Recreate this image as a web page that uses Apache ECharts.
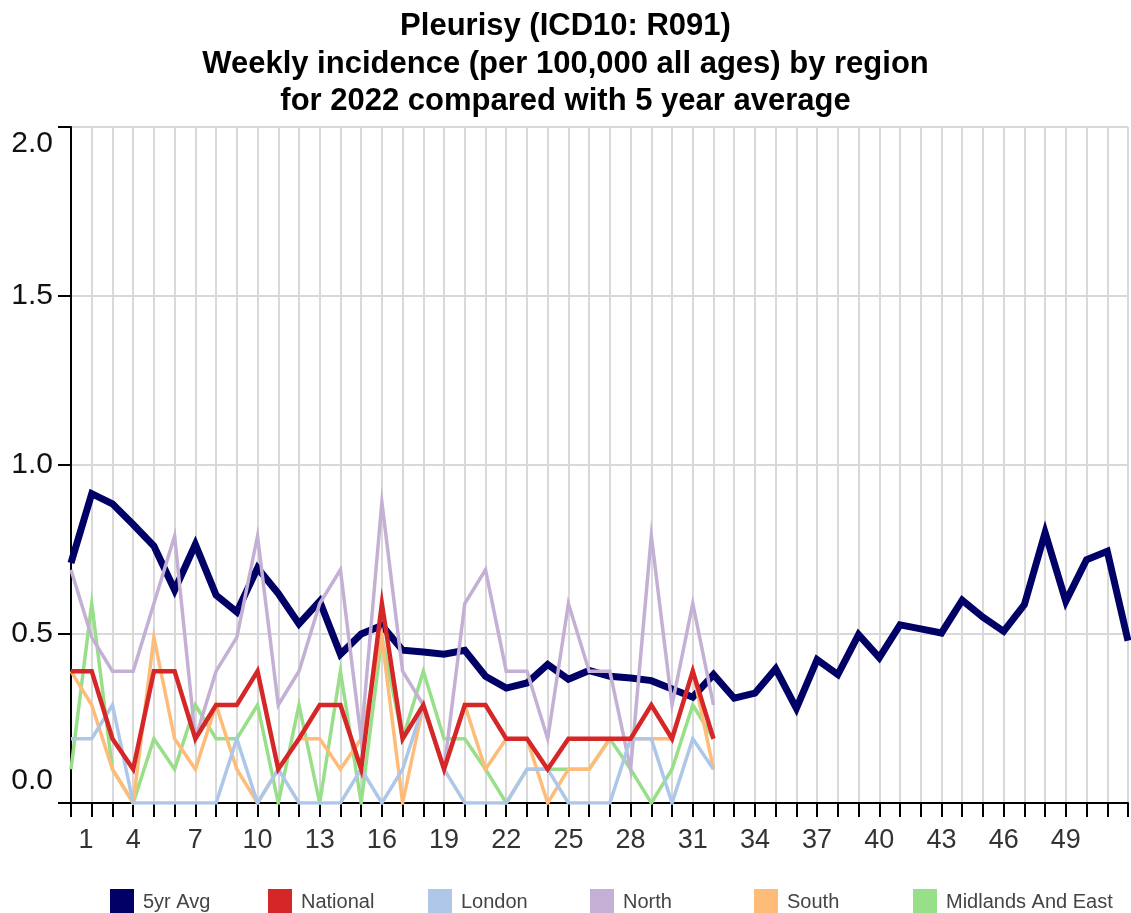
<!DOCTYPE html>
<html>
<head>
<meta charset="utf-8">
<script src="https://cdn.jsdelivr.net/npm/echarts@6/dist/echarts.min.js"></script>
<style>
html,body{margin:0;padding:0;background:#fff;}
#chart{width:1131px;height:913px;}
</style>
</head>
<body>
<div id="chart"></div>
<script>
const weeks = ['1','2','3','4','5','6','7','8','9','10','11','12','13','14','15','16','17','18','19','20','21','22','23','24','25','26','27','28','29','30','31','32','33','34','35','36','37','38','39','40','41','42','43','44','45','46','47','48','49','50','51','52'];
const yTicks = [0, 0.5, 1.0, 1.5, 2.0];

const avg5yr = [0.71,0.915,0.885,0.824,0.76,0.63,0.765,0.615,0.565,0.695,0.62,0.53,0.597,0.44,0.50,0.525,0.452,0.447,0.44,0.452,0.375,0.34,0.355,0.41,0.366,0.392,0.375,0.37,0.362,0.337,0.313,0.38,0.31,0.325,0.397,0.28,0.424,0.38,0.498,0.43,0.527,0.515,0.503,0.60,0.55,0.508,0.587,0.80,0.597,0.72,0.745,0.48];
const national = [0.39,0.39,0.19,0.1,0.39,0.39,0.19,0.29,0.29,0.39,0.1,0.19,0.29,0.29,0.1,0.59,0.19,0.29,0.1,0.29,0.29,0.19,0.19,0.1,0.19,0.19,0.19,0.19,0.29,0.19,0.39,0.19];
const london = [0.19,0.19,0.29,0,0,0,0,0,0.19,0,0.1,0,0,0,0.1,0,0.1,0.29,0.1,0,0,0,0.1,0.1,0,0,0,0.19,0.19,0,0.19,0.1];
const north = [0.69,0.49,0.39,0.39,0.59,0.79,0.19,0.39,0.49,0.79,0.29,0.39,0.59,0.69,0.19,0.89,0.39,0.29,0.1,0.59,0.69,0.39,0.39,0.19,0.59,0.39,0.39,0.1,0.79,0.29,0.59,0.29];
const south = [0.39,0.29,0.1,0,0.49,0.19,0.1,0.29,0.1,0,0.1,0.19,0.19,0.1,0.19,0.49,0,0.29,0.1,0.29,0.1,0.19,0.19,0,0.1,0.1,0.19,0.19,0.19,0.19,0.39,0.1];
const midlands = [0.1,0.59,0.1,0,0.19,0.1,0.29,0.19,0.19,0.29,0,0.29,0,0.39,0,0.49,0.19,0.39,0.19,0.19,0.1,0,0.1,0.1,0.1,0.1,0.19,0.1,0,0.1,0.29,0.19];

const titleLines = ['Pleurisy (ICD10: R091)', 'Weekly incidence (per 100,000 all ages) by region', 'for 2022 compared with 5 year average'];
const legendNames = ['5yr Avg','National','London','North','South','Midlands And East'];
const colors = {'5yr Avg':'#000066','National':'#d62728','London':'#aec7e8','North':'#c5b0d5','South':'#ffbb78','Midlands And East':'#98df8a'};
// layout: left edge of each legend icon
const legendLeft = [110, 268, 428, 590, 754, 913];

const FONT = '"Liberation Sans", Arial, sans-serif';
const chart = echarts.init(document.getElementById('chart'), null, {renderer:'canvas'});

function mk(name, data, width, z){
  return {name:name, type:'line', data:data, symbol:'none', showSymbol:false, z:z,
    lineStyle:{color:colors[name], width:width, join:'miter'}, itemStyle:{color:colors[name]},
    emphasis:{disabled:true}, animation:false};
}

const legends = legendNames.map((n, i) => ({
  data:[{name:n, icon:'rect'}], left:legendLeft[i] - 5, top:884, itemWidth:24, itemHeight:26,
  selectedMode:false,
  textStyle:{fontFamily:FONT, fontSize:20, color:'#444', padding:[0,0,0,4]}
}));

chart.setOption({
  animation:false,
  backgroundColor:'#fff',
  title:{text:titleLines.join('\n'), left:'center', top:3,
    textStyle:{fontFamily:FONT, fontSize:31, fontWeight:'bold', color:'#000', lineHeight:37.5}},
  legend:legends,
  grid:{left:71, right:-2.5, top:127, bottom:110, containLabel:false},
  xAxis:{type:'category', data:weeks, boundaryGap:false,
    axisLine:{lineStyle:{color:'#000', width:2}},
    axisTick:{show:true, interval:0, length:14, lineStyle:{color:'#000', width:2}},
    splitLine:{show:true, interval:0, lineStyle:{color:'#d9d9d9', width:2}},
    axisLabel:{interval:0, margin:24, fontFamily:FONT, fontSize:27, color:'#333',
      formatter:function(v, i){ if(i % 3 !== 0 || i >= 51) return ''; return i===0 ? '{f|'+v+'}' : v; },
      rich:{f:{fontFamily:FONT, fontSize:27, color:'#333', padding:[0,0,0,30]}}}},
  yAxis:{type:'value', min:yTicks[0], max:yTicks[yTicks.length-1], interval:0.5,
    axisLine:{show:true, lineStyle:{color:'#000', width:2}},
    axisTick:{show:true, length:13, lineStyle:{color:'#000', width:2}},
    splitLine:{show:true, lineStyle:{color:'#d9d9d9', width:2}},
    axisLabel:{margin:18, fontFamily:FONT, fontSize:30, color:'#111',
      formatter:function(v){ const s=v.toFixed(1); if(v===0) return '{lo|'+s+'}'; if(v===2) return '{hi|'+s+'}'; return s; },
      rich:{lo:{fontFamily:FONT, fontSize:30, color:'#111', padding:[0,0,44,0]}, hi:{fontFamily:FONT, fontSize:30, color:'#111', padding:[34,0,0,0]}}}},
  series:[
    mk('5yr Avg', avg5yr, 7, 2),
    mk('Midlands And East', midlands, 3.5, 3),
    mk('South', south, 3.5, 3),
    mk('North', north, 3.5, 3),
    mk('London', london, 3.5, 3),
    mk('National', national, 4.5, 4)
  ]
});
</script>
</body>
</html>
